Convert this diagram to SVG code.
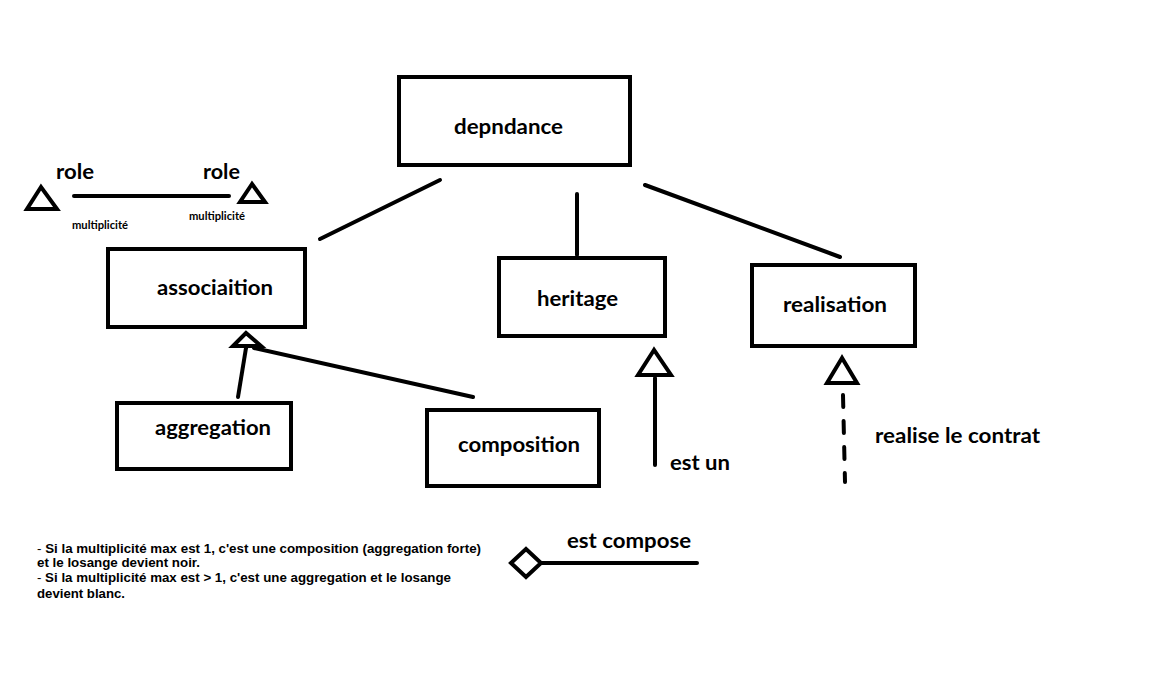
<svg xmlns="http://www.w3.org/2000/svg" width="1152" height="678" viewBox="0 0 1152 678">
<style>
.box{fill:#fff;stroke:#000;stroke-width:4}
.ln{stroke:#000;stroke-width:4;fill:none;stroke-linecap:round}
.tri{fill:#fff;stroke:#000;stroke-width:4;stroke-linejoin:miter}
.lbl{font-family:Lato,"Open Sans",sans-serif;font-weight:bold;font-size:21px;fill:#000}
.sm{font-family:Lato,"Open Sans",sans-serif;font-weight:bold;font-size:10.5px;fill:#000}
.note{font-family:"Liberation Sans Narrow","Liberation Sans",Arial,sans-serif;font-weight:bold;font-size:12.5px;fill:#000}
.nb{font-weight:normal}
</style>
<rect width="1152" height="678" fill="#fff"/>
<g id="connectors">
<line class="ln" x1="440" y1="180" x2="320" y2="239"/>
<line class="ln" x1="577" y1="194" x2="577" y2="255"/>
<line class="ln" x1="645" y1="185" x2="840" y2="257"/>
<line class="ln" x1="74" y1="196" x2="229" y2="196"/>
<polygon class="tri" points="41,187 27,209 57,209"/>
<polygon class="tri" points="252,184 240,202 265,202"/>
<line class="ln" x1="238" y1="397" x2="246" y2="348"/>
<line class="ln" x1="254" y1="348" x2="473" y2="397"/>
<polygon class="tri" points="246,333 233,346 261,346"/>
<polygon class="tri" points="654,350 638,375 671,375"/>
<line class="ln" x1="655" y1="378" x2="655" y2="465"/>
<polygon class="tri" points="842,358 827,383 857,383"/>
<line class="ln" x1="843" y1="395" x2="845" y2="482" stroke-dasharray="12 14" stroke-linecap="butt"/>
<polygon class="tri" points="511,563 526,549 541,563 526,577"/>
<line class="ln" x1="541" y1="563" x2="697" y2="563"/>
</g>
<g id="dependance"><rect class="box" x="399" y="77" width="231" height="88"/><text class="lbl" x="454" y="134" textLength="109" lengthAdjust="spacingAndGlyphs">depndance</text></g>
<g id="association"><rect class="box" x="108" y="249" width="197" height="78"/><text class="lbl" x="157" y="295" textLength="116" lengthAdjust="spacingAndGlyphs">associaition</text></g>
<g id="heritage"><rect class="box" x="499" y="258" width="166" height="78"/><text class="lbl" x="537" y="306" textLength="81" lengthAdjust="spacingAndGlyphs">heritage</text></g>
<g id="realisation"><rect class="box" x="752" y="265" width="163" height="81"/><text class="lbl" x="783" y="312" textLength="104" lengthAdjust="spacingAndGlyphs">realisation</text></g>
<g id="aggregation"><rect class="box" x="117" y="403" width="174" height="66"/><text class="lbl" x="155" y="435" textLength="116" lengthAdjust="spacingAndGlyphs">aggregation</text></g>
<g id="composition"><rect class="box" x="427" y="410" width="172" height="76"/><text class="lbl" x="458" y="452" textLength="122" lengthAdjust="spacingAndGlyphs">composition</text></g>
<g id="labels">
<text class="lbl" x="56" y="179" textLength="38" lengthAdjust="spacingAndGlyphs">role</text>
<text class="lbl" x="203" y="179" textLength="37" lengthAdjust="spacingAndGlyphs">role</text>
<text class="sm" x="72" y="229" textLength="56" lengthAdjust="spacingAndGlyphs">multiplicité</text>
<text class="sm" x="189" y="220" textLength="56" lengthAdjust="spacingAndGlyphs">multiplicité</text>
<text class="lbl" x="670" y="470" textLength="60" lengthAdjust="spacingAndGlyphs">est un</text>
<text class="lbl" x="875" y="443" textLength="165" lengthAdjust="spacingAndGlyphs">realise le contrat</text>
<text class="lbl" x="567" y="548" textLength="124" lengthAdjust="spacingAndGlyphs">est compose</text>
<text class="note" x="37" y="553" textLength="444" lengthAdjust="spacingAndGlyphs"><tspan class="nb">- </tspan>Si la multiplicité max est 1, c'est une composition (aggregation forte)</text>
<text class="note" x="37" y="567" textLength="163" lengthAdjust="spacingAndGlyphs">et le losange devient noir.</text>
<text class="note" x="37" y="582" textLength="414" lengthAdjust="spacingAndGlyphs"><tspan class="nb">- </tspan>Si la multiplicité max est &gt; 1, c'est une aggregation et le losange</text>
<text class="note" x="37" y="598" textLength="88" lengthAdjust="spacingAndGlyphs">devient blanc.</text>
</g>
</svg>
